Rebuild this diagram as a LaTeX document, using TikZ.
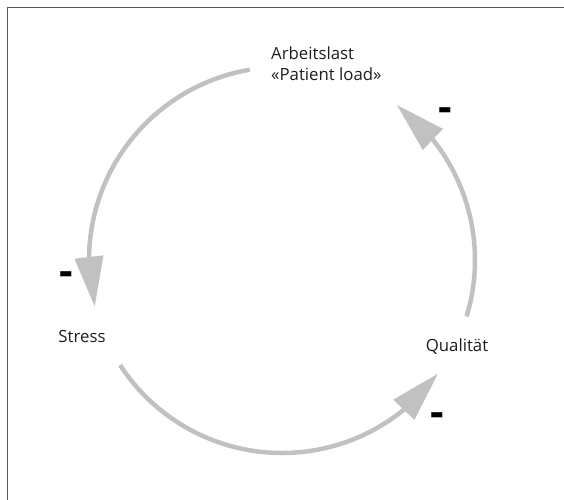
\documentclass[tikz,border=0pt]{standalone}
\usepackage{fontspec}
\setmainfont{Open Sans}
\usetikzlibrary{arrows.meta,bending}
\definecolor{arcgray}{RGB}{193,193,194}
\definecolor{framegray}{RGB}{90,90,90}
\definecolor{txt}{RGB}{30,30,30}
\begin{document}
\begin{tikzpicture}[x=1pt,y=1pt,
  loopline/.style={draw=arcgray, line width=4.5pt, -{Triangle[length=50pt,width=28pt,flex]}},
  lbl/.style={text=txt, inner sep=0pt, font=\fontsize{16.8}{20.5}\selectfont},
  minussign/.style={text=black, inner sep=0pt, font=\fontsize{42}{42}\selectfont\bfseries}]
\useasboundingbox (0,0) rectangle (564,499);
\begin{scope}
  \clip (0,0) rectangle (564,499);
  \draw[framegray, line width=1.8pt] (7.5,-5) -- (7.5,491.5) -- (570,491.5);
\end{scope}
\coordinate (O) at (282,239);
\coordinate (a1) at ([shift={(99.6:193)}]O);
\coordinate (b1) at ([shift={(213:193)}]O);
\coordinate (c1) at ([shift={(343:193)}]O);
\node[lbl, anchor=north west, align=left] (load) at (271,452) {Arbeitslast\\«Patient load»};
\node[lbl, anchor=base] (stress) at (82,157) {Stress};
\node[lbl, anchor=base] (quality) at (457,148) {Qualität};
\draw[loopline] (a1) arc[start angle=99.6, end angle=194, radius=193pt];
\draw[loopline] (b1) arc[start angle=213, end angle=324, radius=193pt];
\draw[loopline] (c1) arc[start angle=343, end angle=413.5, radius=193pt];
\node[minussign] (m1) at (445,384) {-};
\node[minussign] (m2) at (66,220) {-};
\node[minussign] (m3) at (437,79) {-};
\end{tikzpicture}
\end{document}
